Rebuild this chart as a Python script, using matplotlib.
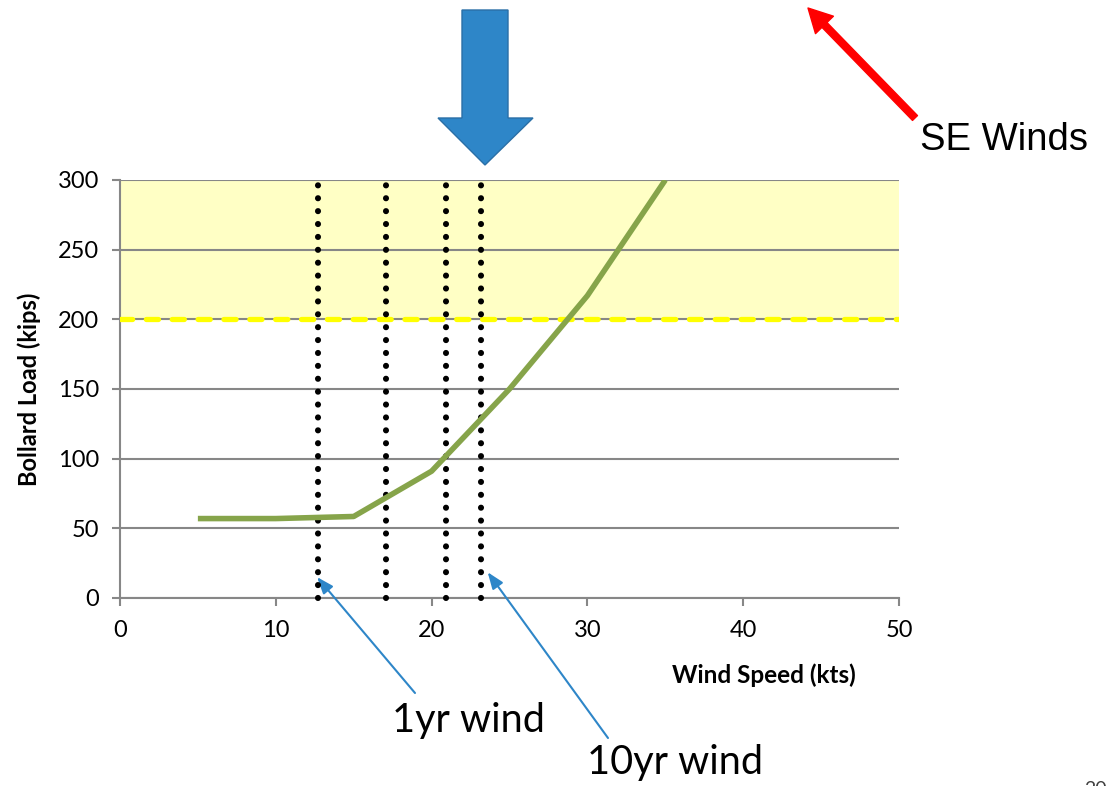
import matplotlib.pyplot as plt
from matplotlib.patches import Polygon, FancyArrowPatch

# Bollard load vs wind speed (SE winds)
wind_speed = [5, 10, 15, 20, 25, 30, 35]
bollard_load = [57, 57, 58.5, 91, 150, 217, 300]

# return-period wind speeds marked with dotted verticals
marker_speeds = [12.7, 17.1, 20.9, 23.2]
load_limit = 200
y_ticks = [0, 50, 100, 150, 200, 250, 300]
x_ticks = [0, 10, 20, 30, 40, 50]

W, H = 1115, 786
fig = plt.figure(figsize=(W / 100, H / 100), dpi=100)


def px(x, y):
    # pixel position (top-left origin) -> figure fraction
    return x / W, 1 - y / H


ax = fig.add_axes([0.1076, 0.2392, 0.6987, 0.5318])
ax.set_xlim(0, 50)
ax.set_ylim(0, 300)

grey = '#878787'
ax.axhspan(load_limit, 300, color='#FFFFC5', zorder=0)
ax.set_yticks(y_ticks)
ax.set_xticks(x_ticks)
ax.grid(axis='y', color=grey, lw=1.5, zorder=1)
ax.set_axisbelow(True)

for s in ['top', 'right']:
    ax.spines[s].set_visible(False)
for s in ['left', 'bottom']:
    ax.spines[s].set_color(grey)
    ax.spines[s].set_linewidth(1.5)
ax.tick_params(colors=grey, width=1.5, length=6, labelcolor='black',
               labelsize=17, pad=9)
for lab in ax.get_xticklabels() + ax.get_yticklabels():
    lab.set_fontfamily('Lato')
ax.tick_params(axis='x', pad=10)

ax.axhline(load_limit, color='#FFFF00', lw=3.8, ls=(0, (2.3, 2.6)),
           dash_capstyle='round', zorder=3)

for xs in marker_speeds:
    ax.plot([xs, xs], [0, 300], color='black', lw=4.4, ls=(0, (0.01, 2.1)),
            dash_capstyle='round', zorder=4, clip_on=False)

ax.plot(wind_speed, bollard_load, color='#86A44A', lw=4,
        solid_capstyle='butt', zorder=5)

ax.set_ylabel('Bollard Load (kips)', fontfamily='Lato', fontweight='bold',
              fontsize=17, labelpad=12)
ax.text(0.827, -0.185, 'Wind Speed (kts)', transform=ax.transAxes,
        fontfamily='Lato', fontweight='bold', fontsize=17.5,
        ha='center', va='center')

# big blue arrow pointing down at the chart
blue = '#2E86C8'
pts = [(462, 10), (508, 10), (508, 118), (533, 118), (485, 165),
       (438, 118), (462, 118)]
fig.patches.append(Polygon([px(*p) for p in pts], closed=True,
                           transform=fig.transFigure, facecolor=blue,
                           edgecolor='#2A6FA6', lw=1))

# red wind-direction arrow
fig.patches.append(FancyArrowPatch(
    px(915, 118), px(808, 8), transform=fig.transFigure,
    arrowstyle='simple,head_length=17,head_width=18,tail_width=5',
    mutation_scale=1, color='#FF0000', shrinkA=0, shrinkB=0))
fig.text(*px(920, 140), 'SE Winds', fontfamily='Liberation Sans',
         fontsize=27.5, ha='left', va='center')

# callouts for the 1yr and 10yr winds
for tip, tail in [((12.65, 15), (415, 693)), ((23.6, 18.5), (608, 738))]:
    ax.annotate('', xy=tip, xycoords='data', xytext=px(*tail),
                textcoords='figure fraction', annotation_clip=False,
                arrowprops=dict(arrowstyle='-|>,head_length=10,head_width=3.8',
                                mutation_scale=1, color=blue, lw=1.5,
                                shrinkA=0, shrinkB=0))
fig.text(*px(392, 732), '1yr wind', fontfamily='Lato', fontsize=28.5,
         ha='left', va='baseline')
fig.text(*px(587, 774), '10yr wind', fontfamily='Lato', fontsize=28.5,
         ha='left', va='baseline')

fig.text(*px(1084, 781), '20', fontfamily='Lato', fontsize=14,
         ha='left', va='top', color='#404040')

fig.savefig('out.png', dpi=100)
